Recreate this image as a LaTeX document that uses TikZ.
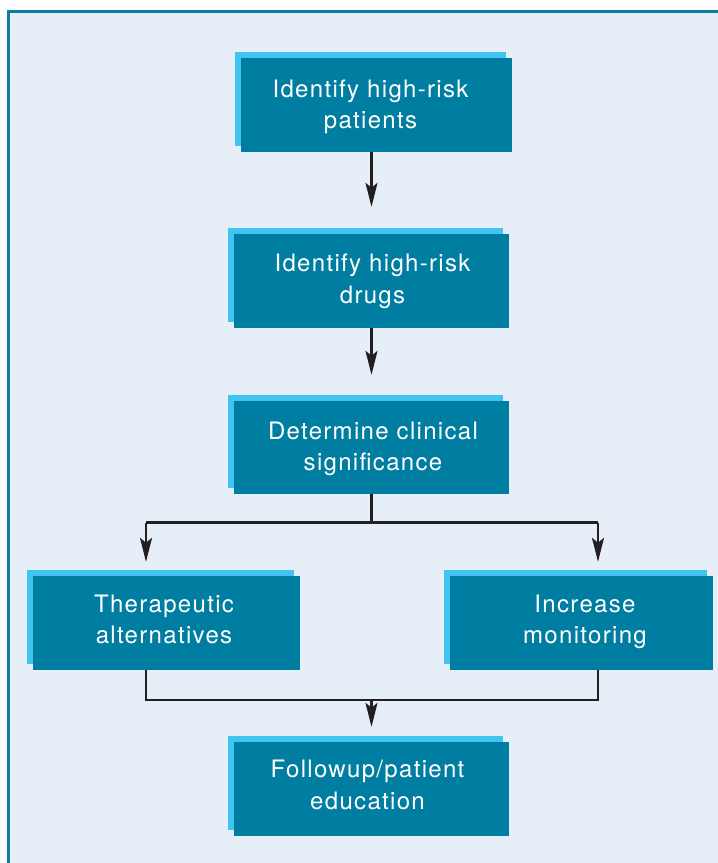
\documentclass[tikz,border=0pt]{standalone}
\usepackage{fontspec}
\setmainfont[LetterSpace=5.5]{TeX Gyre Heros}
\usetikzlibrary{arrows.meta,shadows}
\definecolor{darkteal}{HTML}{007EA1}
\definecolor{lightblu}{HTML}{40C4F0}
\definecolor{bgblue}{HTML}{E6EEF8}
\definecolor{frameteal}{HTML}{0A7DA0}
\definecolor{arrowgray}{HTML}{231F20}
\newcommand\tstrut{\rule[-6pt]{0pt}{24pt}}
\tikzset{
  stepbox/.style={fill=darkteal, inner sep=0pt, minimum height=94pt,
    general shadow={fill=lightblu, shadow xshift=-6pt, shadow yshift=6pt}},
  txt/.style={text=white, align=center, inner sep=0pt,
    font=\fontsize{24pt}{31.5pt}\selectfont},
  conn/.style={draw=arrowgray, line width=2.3pt},
  arr/.style={conn, -{Stealth[length=24pt,width=12pt,inset=5pt]}},
}
\begin{document}
\begin{tikzpicture}[x=1pt,y=-1pt]
\useasboundingbox (0,0) rectangle (718,863);
\fill[bgblue] (8,11) rectangle (718,863);
\draw[frameteal, line width=2.8pt] (8.5,863) -- (8.5,11.4) -- (718,11.4);

\node[stepbox, minimum width=271pt,
  label={[txt,xshift=-6pt,yshift=-2pt]center:{\tstrut Identify high-risk\\\tstrut patients}}]
  (b1) at (376.5,105) {};
\node[stepbox, minimum width=275pt,
  label={[txt,xshift=1pt,yshift=-0.5pt]center:{\tstrut Identify high-risk\\\tstrut drugs}}]
  (b2) at (371.5,281) {};
\node[stepbox, minimum width=275pt, minimum height=93pt,
  label={[txt,xshift=1.5pt,yshift=-1.3pt]center:{\tstrut Determine clinical\\\tstrut significance}}]
  (b3) at (371.5,447.5) {};
\node[stepbox, minimum width=267pt,
  label={[txt,xshift=-2.5pt,yshift=1.2pt]center:{\tstrut Therapeutic\\\tstrut alternatives}}]
  (b4) at (166.5,623) {};
\node[stepbox, minimum width=263pt,
  label={[txt,xshift=3.5pt,yshift=1.2pt]center:{\tstrut Increase\\\tstrut monitoring}}]
  (b5) at (581.5,623) {};
\node[stepbox, minimum width=275pt,
  label={[txt,xshift=-4pt,yshift=1.5pt]center:{\tstrut Followup/patient\\\tstrut education}}]
  (b6) at (371.5,789) {};

\coordinate (split) at (371.5,522.5);
\coordinate (sl) at (146,522.5);
\coordinate (sr) at (598,522.5);
\coordinate (ml) at (146,700);
\coordinate (mr) at (598,700);
\coordinate (mm) at (371.5,700);

\draw[arr, shorten >=27pt] (b1.south -| b2.north) -- (b2.north);
\draw[arr, shorten >=26pt] (b2.south) -- (b3.north);
\draw[conn] (b3.south) -- (split);
\draw[conn] (sl) -- (sr);
\draw[arr, shorten >=14pt] (sl) -- (sl |- b4.north);
\draw[arr, shorten >=14pt] (sr) -- (sr |- b5.north);
\draw[conn] (b4.south -| ml) -- (ml) -- (mr) -- (b5.south -| mr);
\draw[arr, shorten >=15pt] (mm) -- (b6.north);
\end{tikzpicture}
\end{document}
